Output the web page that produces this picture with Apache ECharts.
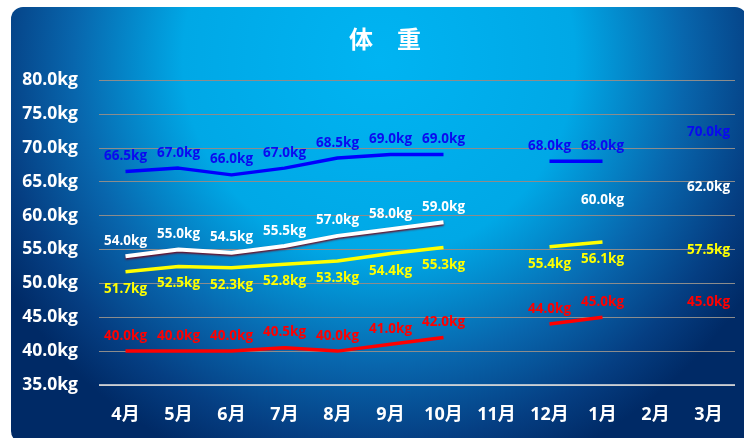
<!DOCTYPE html>
<html><head><meta charset="utf-8">
<script src="https://cdn.jsdelivr.net/npm/echarts@6/dist/echarts.min.js"></script>
<style>html,body{margin:0;padding:0;background:#fff;}#c{width:744px;height:438px;}</style>
</head><body><div id="c"></div>
<script>
const categories = ['4月','5月','6月','7月','8月','9月','10月','11月','12月','1月','2月','3月'];
const blueValues   = [66.5, 67.0, 66.0, 67.0, 68.5, 69.0, 69.0, null, 68.0, 68.0, null, 70.0];
const whiteValues  = [54.0, 55.0, 54.5, 55.5, 57.0, 58.0, 59.0, null, null, 60.0, null, 62.0];
const yellowValues = [51.7, 52.5, 52.3, 52.8, 53.3, 54.4, 55.3, null, 55.4, 56.1, null, 57.5];
const redValues    = [40.0, 40.0, 40.0, 40.5, 40.0, 41.0, 42.0, null, 44.0, 45.0, null, 45.0];
const yMin = 35, yMax = 80, yStep = 5;

const chart = echarts.init(document.getElementById('c'), null, {renderer:'canvas'});
const F = "'Open Sans', 'Noto Sans CJK SC', sans-serif";
function mk(name, data, color, labelColor, pos, extra) {
  return Object.assign({
    name, type:'line', data,
    symbol:'circle', symbolSize:1,
    itemStyle:{color:'rgba(0,0,0,0)'},
    lineStyle:{color, width:3.5},
    label:{show:true, position:pos, distance: pos==='bottom'?10:8, color:labelColor,
      fontFamily:F, fontWeight:'bold', fontSize:13.5,
      formatter: p => p.value.toFixed(1) + 'kg'},
    z: 3
  }, extra||{});
}
chart.setOption({
  animation:false,
  graphic:[{
    type:'rect', z:-10, silent:true,
    shape:{x:11, y:7, width:736, height:436, r:12},
    style:{fill:{type:'radial', x:0.5, y:0.12, r:1.0, colorStops:[
      {offset:0, color:'#00b4f2'},
      {offset:0.45, color:'#00a8e6'},
      {offset:0.7, color:'#0866ad'},
      {offset:0.88, color:'#053e82'},
      {offset:1, color:'#002a66'}]}}
  }],
  title:{text:'体　重', left:380, textAlign:'center', top:22,
    textStyle:{color:'#fff', fontSize:24, fontWeight:'bold', fontFamily:"'Noto Sans CJK SC', sans-serif"}},
  grid:{left:99, right:9, top:80, bottom:53},
  xAxis:{type:'category', data:categories, boundaryGap:true,
    axisLine:{show:false}, axisTick:{show:false},
    axisLabel:{color:'#fff', fontFamily:F, fontWeight:'bold', fontSize:18, margin:21}},
  yAxis:{type:'value', min:yMin, max:yMax, interval:yStep,
    axisLine:{show:false}, axisTick:{show:false},
    splitLine:{lineStyle:{color:'#8c8c8c', width:1}},
    axisLabel:{color:'#fff', fontFamily:F, fontWeight:'bold', fontSize:17.5, margin:21,
      formatter: v => v.toFixed(1) + 'kg'}},
  series:[
    mk('blue', blueValues, '#0000ff', '#0a0af0', 'top'),
    mk('white', whiteValues, '#ffffff', '#ffffff', 'top',
      {lineStyle:{color:'#ffffff', width:4, shadowColor:'rgba(120,0,20,0.9)', shadowBlur:2, shadowOffsetY:1.5}}),
    mk('yellow', yellowValues, '#ffff00', '#ffff00', 'bottom'),
    mk('red', redValues, '#ff0000', '#ff0000', 'top'),
    {type:'line', data:[], markLine:{silent:true, symbol:'none', label:{show:false},
      lineStyle:{color:'#e6e6e6', type:'solid', width:1.5}, data:[{yAxis:yMin}]}}
  ]
});
</script></body></html>
